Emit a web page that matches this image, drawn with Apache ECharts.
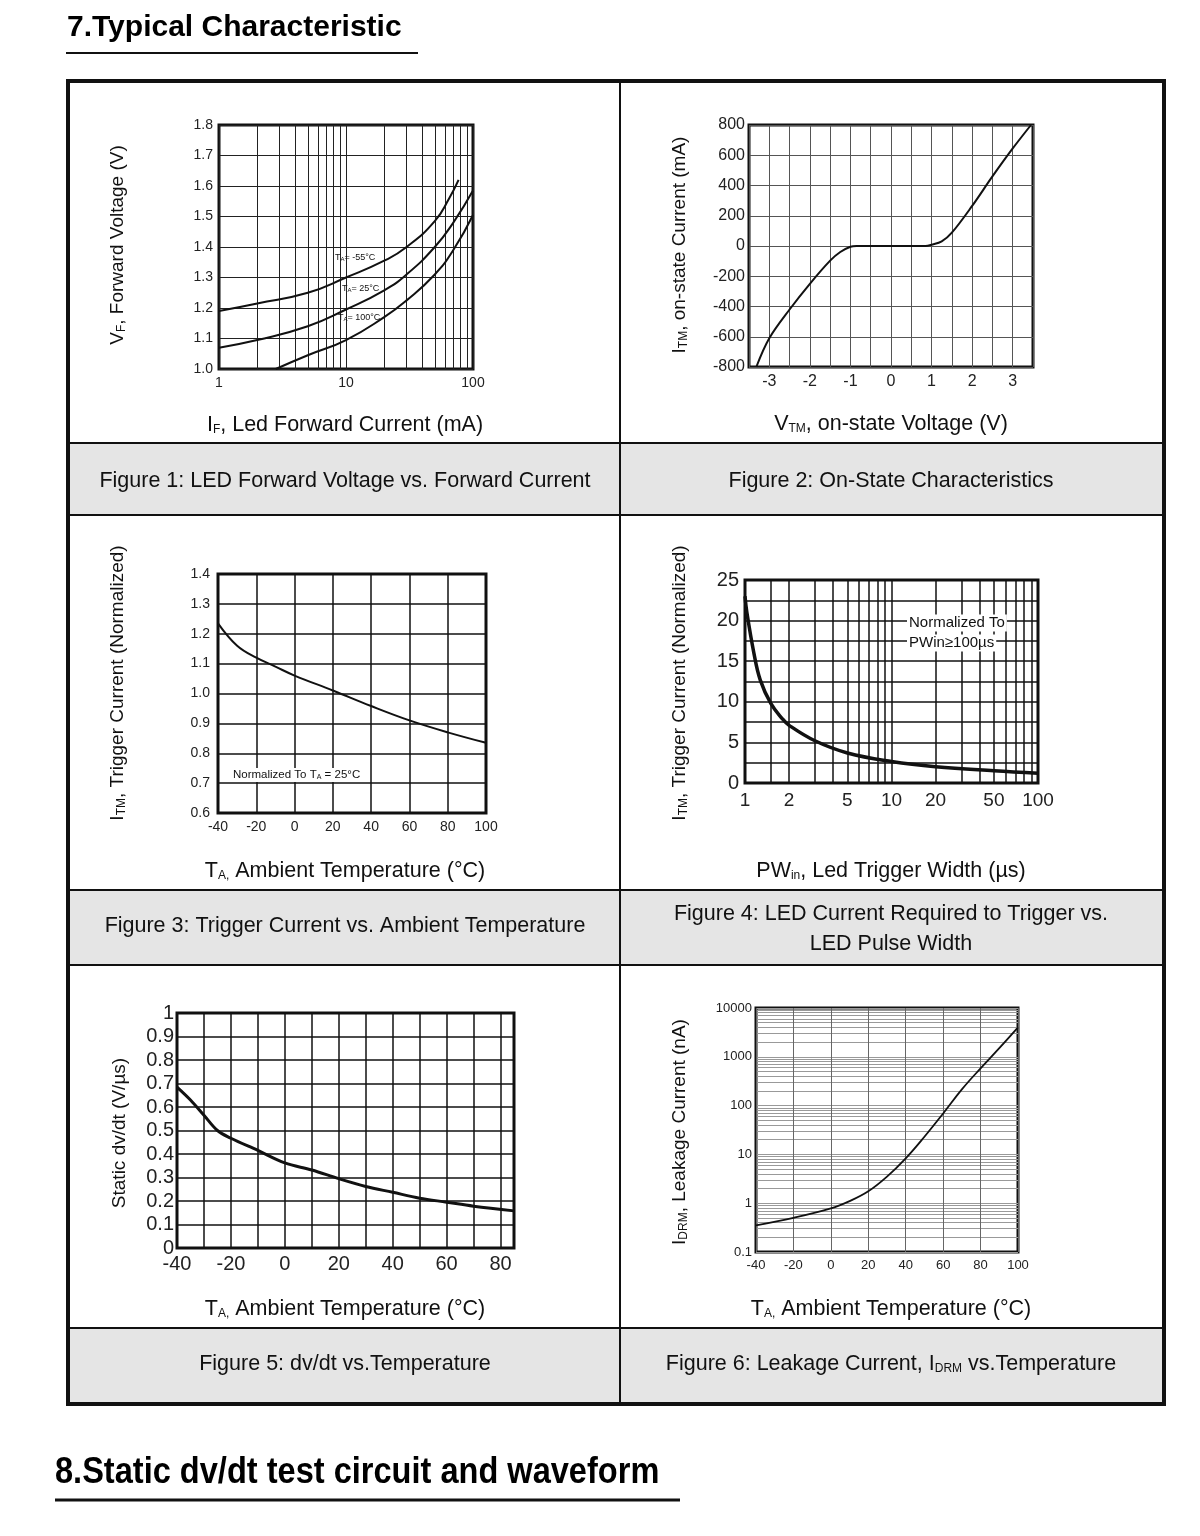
<!DOCTYPE html>
<html>
<head>
<meta charset="utf-8">
<title>Typical Characteristic</title>
<script src="https://cdn.jsdelivr.net/npm/echarts@6/dist/echarts.min.js"></script>
<style>
  html, body { margin: 0; padding: 0; background: #fff; }
  #chart { width: 1200px; height: 1536px; }
</style>
</head>
<body>
<div id="chart"></div>
<script>
// Figure 1: LED forward voltage vs forward current (three temperatures)
const ifN55 = [1, 2, 5, 10, 20, 30, 50, 65, 77];
const vfN55 = [1.19, 1.215, 1.25, 1.30, 1.355, 1.40, 1.485, 1.56, 1.62];
const if25 = [1, 2, 5, 10, 20, 30, 50, 70, 100];
const vf25 = [1.07, 1.095, 1.14, 1.195, 1.258, 1.31, 1.40, 1.48, 1.585];
const if100 = [2.8, 5, 10, 20, 30, 50, 70, 100];
const vf100 = [1.0, 1.045, 1.095, 1.17, 1.225, 1.31, 1.39, 1.505];
const fig1XLabels = [1, 10, 100];
const fig1XGrid = [1, 2, 3, 4, 5, 6, 7, 8, 9, 10, 20, 30, 40, 50, 60, 70, 80, 90, 100];

// Figure 2: on-state characteristics
const vtm = [-3.32, -3, -2.5, -2, -1.5, -1.25, -1, -0.85, 0, 0.85, 1, 1.25, 1.5, 2, 2.5, 3, 3.45];
const itm = [-800, -610, -420, -250, -97, -40, -5, 0, 0, 0, 8, 30, 88, 265, 460, 645, 800];

// Figure 3: trigger current vs ambient temperature
const temp3 = [-40, -30, -20, -10, 0, 20, 40, 60, 80, 100];
const itm3 = [1.235, 1.16, 1.12, 1.09, 1.06, 1.01, 0.958, 0.91, 0.87, 0.835];

// Figure 4: LED current required to trigger vs pulse width
const pw = [1, 1.03, 1.15, 1.27, 1.5, 1.8, 2, 3, 5, 10, 20, 50, 100];
const itm4 = [23, 21, 16, 12.7, 9.8, 7.9, 7.1, 5.2, 3.7, 2.65, 2.0, 1.5, 1.2];
const fig4XLabels = [1, 2, 5, 10, 20, 50, 100];
const fig4XGrid = [1, 1.5, 2, 3, 4, 5, 6, 7, 8, 9, 10, 20, 30, 40, 50, 60, 70, 80, 90, 100];

// Figure 5: dv/dt vs temperature
const temp5 = [-40, -35, -30, -25, -20, -10, 0, 10, 20, 30, 40, 50, 60, 70, 85];
const dvdt = [0.685, 0.63, 0.565, 0.50, 0.467, 0.415, 0.362, 0.332, 0.295, 0.262, 0.237, 0.212, 0.195, 0.178, 0.158];

// Figure 6: leakage current vs temperature
const temp6 = [-40, -20, 0, 10, 20, 30, 40, 50, 60, 70, 80, 90, 100];
const idrm = [0.35, 0.5, 0.78, 1.1, 1.75, 3.5, 8.3, 23, 69, 215, 580, 1500, 4000];
const fig6YLabels = [0.1, 1, 10, 100, 1000, 10000];
const fig6Decades = [0.1, 1, 10, 100, 1000];

const FONT = '"Liberation Sans", Arial, Helvetica, sans-serif';
const INK = '#111';

function zip(xs, ys) {
  return xs.map((x, i) => [x, ys[i]]);
}

let fig6YGrid = [];
fig6Decades.forEach(d => {
  for (let k = 1; k <= 9; k++) fig6YGrid.push(+(d * k).toPrecision(3));
});
fig6YGrid.push(10000);

function grid(left, top, width, height) {
  return {
    left: left, top: top, width: width, height: height,
    show: true, borderColor: '#111', borderWidth: 3, backgroundColor: '#fff'
  };
}

function axisBase(gi, fontSize, margin, splitColor, splitWidth) {
  return {
    gridIndex: gi,
    axisLine: { show: false },
    axisTick: { show: false },
    splitLine: { show: true, lineStyle: { color: splitColor, width: splitWidth } },
    axisLabel: { fontSize: fontSize, margin: margin, color: '#222', fontFamily: FONT }
  };
}

function valueAxis(gi, min, max, interval, fontSize, margin, fmt, splitColor, splitWidth) {
  const a = axisBase(gi, fontSize, margin, splitColor, splitWidth);
  a.type = 'value';
  a.min = min;
  a.max = max;
  a.interval = interval;
  if (fmt) a.axisLabel.formatter = fmt;
  return a;
}

function logAxis(gi, min, max, gridVals, labelVals, fontSize, margin, splitColor, splitWidth) {
  const a = axisBase(gi, fontSize, margin, splitColor, splitWidth);
  a.type = 'log';
  a.logBase = 10;
  a.min = min;
  a.max = max;
  a.axisTick.customValues = gridVals;
  a.axisLabel.customValues = labelVals;
  a.axisLabel.formatter = v => String(v);
  return a;
}

function line(xi, data, width, smooth) {
  return {
    type: 'line', xAxisIndex: xi, yAxisIndex: xi, data: data,
    showSymbol: false, smooth: smooth, silent: true,
    lineStyle: { color: '#111', width: width }, z: 5
  };
}

const richSub = {
  sub: { fontSize: 12, verticalAlign: 'bottom', fontFamily: FONT, fill: INK, padding: [7, 0, 0, 0] }
};

function label(x, y, text, size, rotate, extra) {
  const el = {
    type: 'text', x: x, y: y, rotation: rotate ? Math.PI / 2 : 0, z: 100,
    style: {
      text: text, fill: INK, fontSize: size, fontFamily: FONT,
      align: 'center', verticalAlign: 'middle', rich: richSub
    }
  };
  if (extra) Object.assign(el.style, extra);
  return el;
}

function hline(y, x1, x2, w) {
  return { type: 'line', shape: { x1: x1, y1: y, x2: x2, y2: y }, style: { stroke: '#111', lineWidth: w } };
}

const CAP = 21.5;   // caption / x-name size
const YN = 19;      // rotated y-name size
const smallSub = { s: { fontSize: 6, verticalAlign: 'bottom' } };

const graphics = [
  // section title
  { type: 'text', x: 67, y: 28, style: { text: '7.Typical Characteristic', fill: '#000', font: 'bold 30px ' + FONT, align: 'left', verticalAlign: 'middle' } },
  hline(53, 66, 418, 2),
  // caption bands
  { type: 'rect', shape: { x: 68, y: 443, width: 1096, height: 72 }, style: { fill: '#e5e5e5' } },
  { type: 'rect', shape: { x: 68, y: 890, width: 1096, height: 75 }, style: { fill: '#e5e5e5' } },
  { type: 'rect', shape: { x: 68, y: 1328, width: 1096, height: 76 }, style: { fill: '#e5e5e5' } },
  hline(443, 68, 1164, 2),
  hline(515, 68, 1164, 2),
  hline(890, 68, 1164, 2),
  hline(965, 68, 1164, 2),
  hline(1328, 68, 1164, 2),
  { type: 'line', shape: { x1: 620, y1: 81, x2: 620, y2: 1404 }, style: { stroke: '#111', lineWidth: 2 } },
  { type: 'rect', shape: { x: 68, y: 81, width: 1096, height: 1323 }, style: { fill: 'none', stroke: '#111', lineWidth: 4 } },

  // captions
  label(345, 481, 'Figure 1: LED Forward Voltage vs. Forward Current', CAP),
  label(891, 481, 'Figure 2: On-State Characteristics', CAP),
  label(345, 926, 'Figure 3: Trigger Current vs. Ambient Temperature', CAP),
  label(891, 914, 'Figure 4: LED Current Required to Trigger vs.', CAP),
  label(891, 944, 'LED Pulse Width', CAP),
  label(345, 1364, 'Figure 5: dv/dt vs.Temperature', CAP),
  label(891, 1364, 'Figure 6: Leakage Current, I{sub|DRM} vs.Temperature', CAP),

  // axis names
  label(118, 245, 'V{sub|F}, Forward Voltage (V)', YN, true),
  label(345, 425, 'I{sub|F}, Led Forward Current (mA)', CAP),
  label(680, 245, 'I{sub|TM}, on-state Current (mA)', YN, true),
  label(891, 424, 'V{sub|TM}, on-state Voltage (V)', CAP),
  label(118, 683, 'I{sub|TM}, Trigger Current (Normalized)', YN, true),
  label(345, 871, 'T{sub|A,} Ambient Temperature (°C)', CAP),
  label(680, 683, 'I{sub|TM}, Trigger Current (Normalized)', YN, true),
  label(891, 871, 'PW{sub|in}, Led Trigger Width (µs)', CAP),
  label(120, 1133, 'Static dv/dt (V/µs)', YN, true),
  label(345, 1309, 'T{sub|A,} Ambient Temperature (°C)', CAP),
  label(680, 1132, 'I{sub|DRM}, Leakage Current (nA)', YN, true),
  label(891, 1309, 'T{sub|A,} Ambient Temperature (°C)', CAP),

  // in-plot notes
  label(335, 258, 'T{s|A}= -55°C', 9, false, { align: 'left', rich: smallSub }),
  label(342, 289, 'T{s|A}= 25°C', 9, false, { align: 'left', rich: smallSub }),
  label(338, 318, 'T{s|A}= 100°C', 9, false, { align: 'left', rich: smallSub }),
  label(231, 775, 'Normalized To T{s|A} = 25°C', 11.5, false, { align: 'left', backgroundColor: '#fff', padding: [1, 2], rich: { s: { fontSize: 7, verticalAlign: 'bottom' } } }),
  label(907, 623, 'Normalized To', 15, false, { align: 'left', backgroundColor: '#fff', padding: [1, 2] }),
  label(907, 643, 'PWin≥100µs', 15, false, { align: 'left', backgroundColor: '#fff', padding: [1, 2] }),

  // next section title
  { type: 'text', x: 55, y: 1473, scaleX: 0.88, style: { text: '8.Static dv/dt test circuit and waveform', fill: '#000', font: 'bold 37px ' + FONT, align: 'left', verticalAlign: 'middle' } },
  hline(1500, 55, 680, 3)
];

const fmt1 = v => v.toFixed(1);
const chart = echarts.init(document.getElementById('chart'));
chart.setOption({
  animation: false,
  backgroundColor: '#fff',
  textStyle: { fontFamily: FONT },
  grid: [
    grid(219, 125, 254, 244),
    grid(749, 125, 284, 242),
    grid(218, 574, 268, 239),
    grid(745, 580, 293, 203),
    grid(177, 1013, 337, 235),
    grid(756, 1008, 262, 244)
  ],
  xAxis: [
    logAxis(0, 1, 100, fig1XGrid, fig1XLabels, 14, 7, '#222', 1),
    valueAxis(1, -3.5, 3.5, 0.5, 16, 7, v => (Number.isInteger(v) ? String(v) : ''), '#555', 1),
    valueAxis(2, -40, 100, 20, 14, 7, null, '#111', 1.5),
    logAxis(3, 1, 100, fig4XGrid, fig4XLabels, 19, 8, '#111', 1.5),
    valueAxis(4, -40, 85, 10, 20, 6, v => (v % 20 === 0 ? String(v) : ''), '#111', 1.5),
    valueAxis(5, -40, 100, 20, 13, 7, null, '#666', 1)
  ],
  yAxis: [
    valueAxis(0, 1.0, 1.8, 0.1, 14, 6, fmt1, '#222', 1),
    valueAxis(1, -800, 800, 200, 16, 4, null, '#555', 1),
    valueAxis(2, 0.6, 1.4, 0.1, 14, 8, fmt1, '#111', 1.5),
    valueAxis(3, 0, 25, 2.5, 20, 6, v => (v % 5 === 0 ? String(v) : ''), '#111', 1.5),
    valueAxis(4, 0, 1, 0.1, 20, 3, v => (v === 0 || v === 1 ? String(v) : v.toFixed(1)), '#111', 1.5),
    logAxis(5, 0.1, 10000, fig6YGrid, fig6YLabels, 13, 4, '#999', 1)
  ],
  series: [
    line(0, zip(ifN55, vfN55), 2, 0.5),
    line(0, zip(if25, vf25), 2, 0.5),
    line(0, zip(if100, vf100), 2, 0.5),
    line(1, zip(vtm, itm), 2, 0.35),
    line(2, zip(temp3, itm3), 2, 0.4),
    line(3, zip(pw, itm4), 3.5, 0.4),
    line(4, zip(temp5, dvdt), 3, 0.35),
    line(5, zip(temp6, idrm), 1.8, 0.4)
  ],
  graphic: graphics
});
</script>
</body>
</html>
